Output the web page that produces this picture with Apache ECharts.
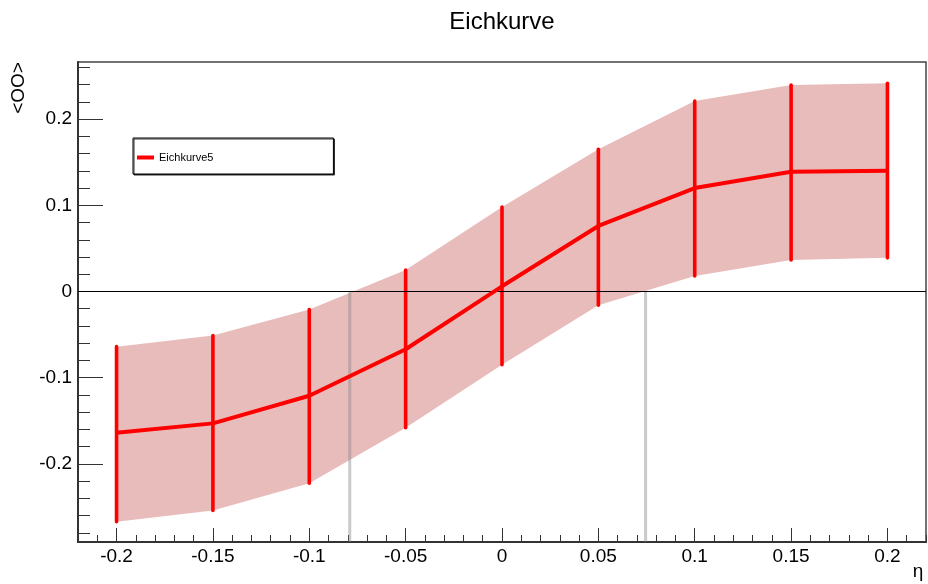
<!DOCTYPE html>
<html>
<head>
<meta charset="utf-8">
<script src="https://cdn.jsdelivr.net/npm/echarts@6/dist/echarts.min.js"></script>
<style>
html,body{margin:0;padding:0;background:#fff;}
#chart{width:928px;height:584px;}
</style>
</head>
<body>
<div id="chart"></div>
<script>
// ---- data ----
const etaValues   = [-0.2, -0.15, -0.1, -0.05, 0, 0.05, 0.1, 0.15, 0.2];
const meanValues  = [-0.164, -0.153, -0.121, -0.067, 0.006, 0.076, 0.120, 0.139, 0.140];
const upperValues = [-0.064, -0.051, -0.021, 0.025, 0.098, 0.165, 0.221, 0.2395, 0.2415];
const lowerValues = [-0.267, -0.254, -0.2225, -0.158, -0.085, -0.016, 0.018, 0.0365, 0.039];
const crossingEta = [-0.079, 0.0745];
const seriesName  = 'Eichkurve5';
const titleText   = 'Eichkurve';
const yTitle      = '<OO>';
const xTitle      = 'η';
const xRange = [-0.22, 0.22];
const yRange = [-0.2906, 0.2662];
const xMajorRange = [-0.2, 0.2];
const yMajorRange = [-0.2, 0.2];
const yMinorRange = [-0.28, 0.26];

const FONT = 'Liberation Sans, Arial, sans-serif';
const AXC = '#333';

const chart = echarts.init(document.getElementById('chart'), null, {renderer:'canvas'});

function fmt(v){ return String(+(+v).toFixed(3)); }

const hiddenX = {show:false, type:'value', min:0, max:1};
const hiddenY = {show:false, type:'value', min:0, max:1};

const option = {
  animation: false,
  backgroundColor: '#fff',
  grid: [
    {left:78, right:2, top:62, bottom:42, show:true, borderColor:'#444', borderWidth:1.5, backgroundColor:'transparent', outerBoundsMode:'none'},
    {left:116.545, right:40.545, top:62, bottom:42, outerBoundsMode:'none'},
    {left:78, right:2, top:67.36, bottom:51.12, outerBoundsMode:'none'},
    {left:78, right:2, top:119.09, bottom:120.09, outerBoundsMode:'none'}
  ],
  xAxis: [
    {gridIndex:0, type:'value', min:xRange[0], max:xRange[1], interval:0.01,
     axisLine:{show:true, onZero:false, lineStyle:{color:AXC, width:2}},
     axisTick:{show:true, inside:true, length:7, lineStyle:{color:AXC, width:1}},
     axisLabel:{show:false}, splitLine:{show:false}},
    {gridIndex:1, type:'value', min:xMajorRange[0], max:xMajorRange[1], interval:0.05,
     axisLine:{show:false, onZero:false},
     axisTick:{show:true, inside:true, length:14, lineStyle:{color:AXC, width:1}},
     axisLabel:{show:true, margin:5, fontSize:19, fontFamily:FONT, color:'#000', formatter:fmt},
     splitLine:{show:false}},
    Object.assign({gridIndex:2}, hiddenX),
    Object.assign({gridIndex:3}, hiddenX)
  ],
  yAxis: [
    {gridIndex:0, type:'value', min:yRange[0], max:yRange[1],
     axisLine:{show:true, onZero:false, lineStyle:{color:AXC, width:2}},
     axisTick:{show:false}, axisLabel:{show:false}, splitLine:{show:false}},
    Object.assign({gridIndex:1}, hiddenY),
    {gridIndex:2, type:'value', min:yMinorRange[0], max:yMinorRange[1], interval:0.02,
     axisLine:{show:false, onZero:false},
     axisTick:{show:true, inside:true, length:12, lineStyle:{color:AXC, width:1}},
     axisLabel:{show:false}, splitLine:{show:false}},
    {gridIndex:3, type:'value', min:yMajorRange[0], max:yMajorRange[1], interval:0.1,
     axisLine:{show:false, onZero:false},
     axisTick:{show:true, inside:true, length:25, lineStyle:{color:AXC, width:1}},
     axisLabel:{show:true, margin:6, fontSize:19, fontFamily:FONT, color:'#000', formatter:fmt},
     splitLine:{show:false}}
  ],
  legend: {
    show:true, data:[seriesName], left:133, top:138, orient:'vertical',
    padding:[14, 120, 11, 4], itemWidth:17, itemHeight:4, icon:'rect',
    backgroundColor:'#fff', borderColor:'#000', borderWidth:1,
    shadowColor:'rgba(0,0,0,0.8)', shadowOffsetX:1, shadowOffsetY:1, shadowBlur:0,
    textStyle:{fontSize:11, fontFamily:FONT, color:'#000'},
    selectedMode:false
  },
  graphic: [
    {type:'text', x:502, y:22, style:{text:titleText, font:'24px ' + FONT, fill:'#000', align:'center', verticalAlign:'middle'}},
    {type:'text', x:19, y:88, rotation:Math.PI/2, style:{text:yTitle, font:'19px ' + FONT, fill:'#000', align:'center', verticalAlign:'middle'}},
    {type:'text', x:918, y:572, style:{text:xTitle, font:'19px ' + FONT, fill:'#000', align:'center', verticalAlign:'middle'}}
  ],
  series: [
    {
      name:'band', type:'custom', xAxisIndex:0, yAxisIndex:0, z:1, silent:true,
      data: etaValues.map((x,i)=>[x, lowerValues[i], upperValues[i]]),
      renderItem: function(params, api){
        if (params.dataIndex !== 0) return null;
        const pts = [];
        for (let i=0;i<etaValues.length;i++) pts.push(api.coord([etaValues[i], upperValues[i]]));
        for (let i=etaValues.length-1;i>=0;i--) pts.push(api.coord([etaValues[i], lowerValues[i]]));
        return {type:'polygon', shape:{points:pts}, style:{fill:'#e9bcbc', stroke:null}};
      },
      markLine: {
        silent:true, symbol:'none', label:{show:false}, animation:false,
        lineStyle:{color:'#000', width:1, type:'solid'},
        data:[{yAxis:0}]
      }
    },
    {
      name:'crossings', type:'custom', xAxisIndex:0, yAxisIndex:0, z:3, silent:true,
      data: crossingEta.map(x=>[x, 0]),
      renderItem: function(params, api){
        const p0 = api.coord([api.value(0), api.value(1)]);
        const p1 = api.coord([api.value(0), yRange[0]]);
        return {type:'line', shape:{x1:p0[0], y1:p0[1], x2:p1[0], y2:p1[1]},
                style:{stroke:'rgba(128,128,128,0.42)', lineWidth:3}};
      }
    },
    {
      name:'errors', type:'custom', xAxisIndex:0, yAxisIndex:0, z:4, silent:true,
      data: etaValues.map((x,i)=>[x, lowerValues[i], upperValues[i]]),
      renderItem: function(params, api){
        const p0 = api.coord([api.value(0), api.value(1)]);
        const p1 = api.coord([api.value(0), api.value(2)]);
        return {type:'line', shape:{x1:p0[0], y1:p0[1], x2:p1[0], y2:p1[1]},
                style:{stroke:'#ff0000', lineWidth:3.6, lineCap:'round'}};
      }
    },
    {
      name:seriesName, type:'line', xAxisIndex:0, yAxisIndex:0, z:5,
      data: etaValues.map((x,i)=>[x, meanValues[i]]),
      showSymbol:false, symbol:'none', color:'#ff0000',
      lineStyle:{color:'#ff0000', width:4}
    }
  ]
};
chart.setOption(option);
</script>
</body>
</html>
